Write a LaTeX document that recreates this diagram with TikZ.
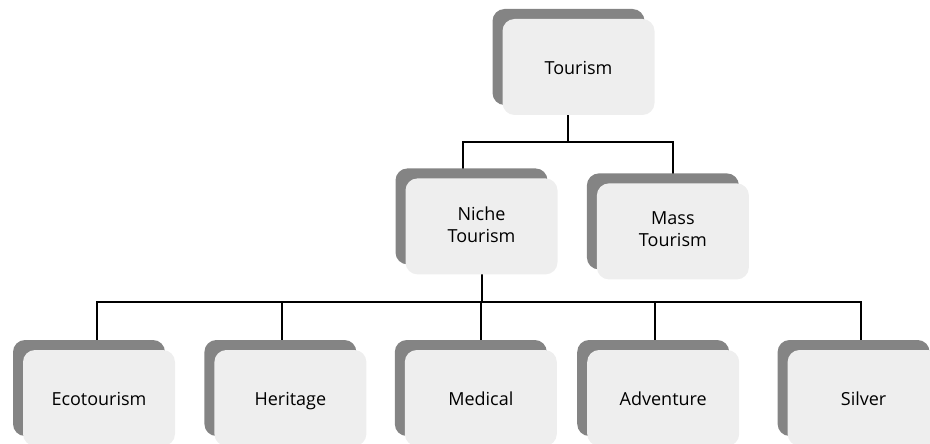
\documentclass[tikz,border=0pt]{standalone}
\usepackage{fontspec}
\setmainfont{Open Sans}
\usetikzlibrary{positioning,shadows,backgrounds}
\definecolor{boxfill}{RGB}{238,238,238}
\definecolor{boxback}{RGB}{132,132,132}

\begin{document}
\begin{tikzpicture}[
			x=1pt, y=-1pt,
			font=\fontsize{18}{22}\selectfont,
			% Define styles for the boxes and links
			level/.style={rectangle, rounded corners=12pt, fill=boxfill, align=center,
				minimum width=152pt, minimum height=96pt, inner sep=2pt,
				execute at begin node=\rule{0pt}{20pt}, execute at end node=\vphantom{g},
				copy shadow={shadow xshift=-10pt, shadow yshift=10pt, fill=boxback, draw=none}},
			link/.style={draw=black, line width=2pt}
			]
			\useasboundingbox (0,0) rectangle (930,444);
			
			% --- Nodes ---
			\node (tourism) [level] at (578.5,67) {Tourism};
			
			\node (niche) [level, below=63pt of tourism, xshift=-97pt] {Niche\\Tourism};
			\node (mass) [level, right=39pt of niche, yshift=-5pt] {Mass\\Tourism};
			
			% Bottom row: kinds of niche tourism
			\node (eco) [level] at (99,398) {Ecotourism};
			\node (heritage) [level, right=39pt of eco] {Heritage};
			\node (medical) [level, right=38pt of heritage] {Medical};
			\node (adventure) [level, right=30pt of medical] {Adventure};
			\node (silver) [level, right=48pt of adventure] {Silver};
			
			% --- Links ---
			\begin{scope}[on background layer]
				\draw[link] ([xshift=-11pt]tourism.center) -- ++(0,75) -| ([xshift=-19pt]niche.center);
				\draw[link] ([xshift=-11pt]tourism.center) -- ++(0,75) -| (mass.center);
				
				\foreach \n/\dx in {eco/-2, heritage/-8, medical/0, adventure/-8, silver/-3}
				\draw[link] (niche.center) -- ++(0,76) -| ([xshift=\dx pt]\n.center);
			\end{scope}
			
		\end{tikzpicture}
\end{document}
